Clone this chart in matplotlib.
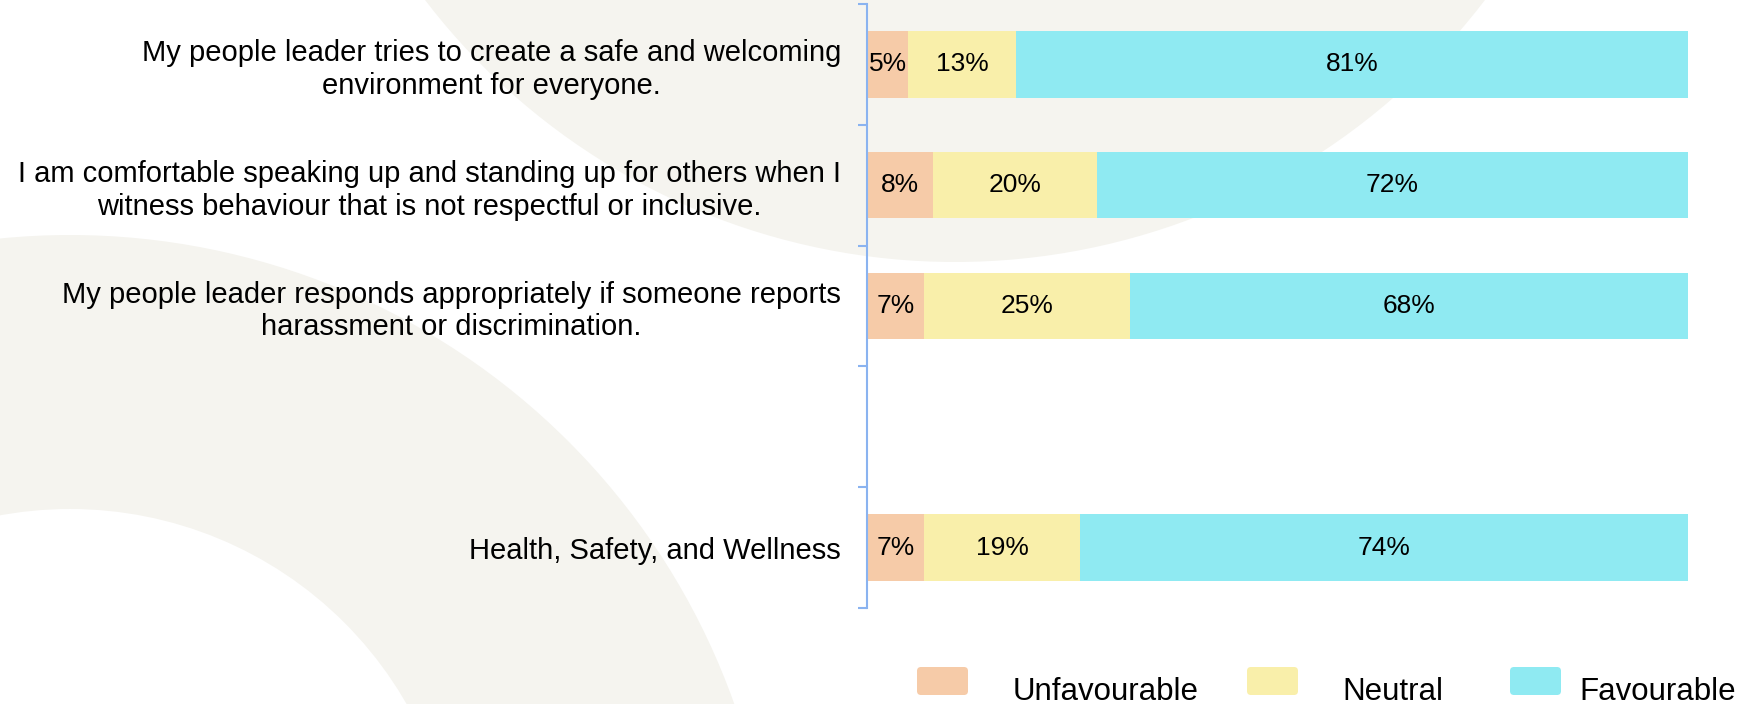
import numpy as np
import matplotlib

matplotlib.use("Agg")
import matplotlib.pyplot as plt
from matplotlib.patches import Circle, FancyBboxPatch

plt.rcParams["font.family"] = ["Liberation Sans", "DejaVu Sans"]

# Data
categories = [
    "My people leader tries to create a safe and welcoming\nenvironment for everyone.",
    "I am comfortable speaking up and standing up for others when I\nwitness behaviour that is not respectful or inclusive.",
    "My people leader responds appropriately if someone reports\nharassment or discrimination.",
    "",
    "Health, Safety, and Wellness",
]
unfavourable = [5, 8, 7, np.nan, 7]
neutral = [13, 20, 25, np.nan, 19]
favourable = [81, 72, 68, np.nan, 74]
series_names = ["Unfavourable", "Neutral", "Favourable"]

colors = ["#F6CBA8", "#F9EFAA", "#8FEAF2"]
bg_color = "#F5F4EF"
axis_color = "#8AB3F0"

W, H = 1756, 704
fig = plt.figure(figsize=(W / 100, H / 100), dpi=100)

# decorative background arcs, pixel coordinates
bg = fig.add_axes([0, 0, 1, 1], zorder=0)
bg.set_xlim(0, W)
bg.set_ylim(H, 0)
bg.axis("off")
bg.add_patch(Circle((70, 940), 705, color=bg_color, lw=0))
bg.add_patch(Circle((70, 897), 388, color="white", lw=0))
bg.add_patch(Circle((955, -405), 667, color=bg_color, lw=0))

ax = fig.add_axes([867 / W, 96 / H, 821 / W, 604 / H], zorder=1)
ax.patch.set_alpha(0)

values = np.array([unfavourable, neutral, favourable], dtype=float)
with np.errstate(invalid="ignore", divide="ignore"):
    shares = values / np.nansum(values, axis=0) * 100  # 100% stacked

y = np.arange(len(categories))
left = np.zeros(len(categories))
for name, vals, share, color in zip(series_names, values, shares, colors):
    width = np.nan_to_num(share)
    bars = ax.barh(y, width, left=left, height=0.55, color=color, label=name)
    labels = ["" if np.isnan(v) else f"{v:.0f}%" for v in vals]
    ax.bar_label(bars, labels=labels, label_type="center", fontsize=19)
    left = left + width

ax.set_xlim(0, 100)
ax.set_ylim(len(categories) - 0.5, -0.5)
ax.set_xticks([])
for side in ["top", "right", "bottom"]:
    ax.spines[side].set_visible(False)
ax.spines["left"].set_color(axis_color)
ax.spines["left"].set_linewidth(1.5)

ax.set_yticks(y, categories, fontsize=21)
for lab in ax.get_yticklabels():
    lab.set_multialignment("center")
ax.tick_params(axis="y", which="major", length=0, pad=18.7)
ax.set_yticks(np.arange(len(categories) + 1) - 0.5, minor=True)
ax.tick_params(axis="y", which="minor", length=6.5, width=1.5, color=axis_color)

# legend along the bottom edge
handle_x = [917, 1247, 1510]
text_x = [1013, 1342, 1579]
for name, color, hx, tx in zip(series_names, colors, handle_x, text_x):
    bg.add_patch(
        FancyBboxPatch((hx, 667), 51, 28, boxstyle="round,pad=0,rounding_size=4",
                       color=color, lw=0)
    )
    bg.text(tx, 700, name, fontsize=22.5, va="baseline", ha="left")

plt.savefig("out.png", dpi=100, facecolor="white")
